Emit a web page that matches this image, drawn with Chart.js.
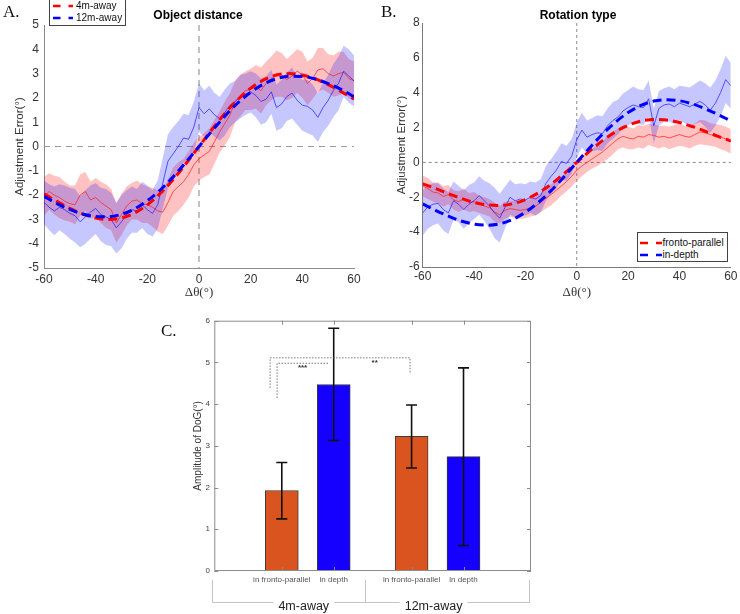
<!DOCTYPE html>
<html><head><meta charset="utf-8">
<title>Adjustment error and DoG amplitude</title>
<script src="https://cdn.jsdelivr.net/npm/chart.js@4.4.1/dist/chart.umd.min.js"></script>
<style>
html,body{margin:0;padding:0;background:#fff;}
body{position:relative;width:740px;height:614px;overflow:hidden;}
canvas{position:absolute;display:block;}
.t{position:absolute;white-space:nowrap;line-height:1;}
.letter{font-family:'Liberation Serif','DejaVu Serif',serif;font-size:17px;color:#111;}
.title{font-family:'Liberation Sans',Arial,sans-serif;font-weight:bold;font-size:12px;color:#000;transform:translateX(-50%);}
.legend{position:absolute;background:#fff;border:1px solid #444;box-sizing:border-box;}
.legend .lab{position:absolute;font-family:'Liberation Sans',Arial,sans-serif;font-size:10px;color:#111;line-height:1;white-space:nowrap;transform:translateY(-50%);}
.legend svg{position:absolute;overflow:visible;}
</style></head><body>
<canvas id="cA" width="370" height="300" style="left:0;top:0;width:370px;height:300px"></canvas>
<canvas id="cB" width="370" height="300" style="left:370px;top:0;width:370px;height:300px"></canvas>
<canvas id="cC" width="400" height="314" style="left:150px;top:300px;width:400px;height:314px"></canvas>
<div class="t letter" style="left:3px;top:3px">A.</div>
<div class="t letter" style="left:381px;top:3px">B.</div>
<div class="t letter" style="left:161px;top:322px">C.</div>
<div class="t title" style="left:198px;top:9px">Object distance</div>
<div class="t title" style="left:578px;top:9px">Rotation type</div>
<div id="legA" class="legend" style="left:49px;top:-1px;width:77px;height:27px"></div>
<div id="legB" class="legend" style="left:637px;top:232px;width:91px;height:30px"></div>
<script>
// ---------- data ----------
const thetas = [-60,-58,-56,-54,-52,-50,-48,-46,-44,-42,-40,-38,-36,-34,-32,-30,-28,-26,-24,-22,-20,-18,-16,-14,-12,-10,-8,-6,-4,-2,0,2,4,6,8,10,12,14,16,18,20,22,24,26,28,30,32,34,36,38,40,42,44,46,48,50,52,54,56,58,60];
const fitThetas = [-60,-55,-50,-45,-40,-35,-30,-25,-20,-15,-10,-5,0,5,10,15,20,25,30,35,40,45,50,55,60];

// Panel A: object distance
const aNames = ['4m-away','12m-away'];
const a4mMean = [-2.05,-1.85,-2.0,-2.1,-2.25,-2.35,-2.4,-2.0,-1.85,-2.2,-2.1,-2.3,-2.45,-2.6,-3.15,-2.8,-2.45,-2.25,-2.2,-2.35,-2.4,-2.5,-2.65,-2.7,-2.3,-1.85,-1.65,-1.45,-1.15,-0.75,-0.5,-0.35,-0.2,0.2,0.6,0.95,1.3,1.85,2.1,2.3,2.35,2.45,2.3,2.6,2.8,3.0,2.95,2.75,2.9,3.1,2.95,2.6,2.8,3.15,3.2,3.0,2.9,3.0,3.05,2.8,2.7];
const a4mErr = [0.8,0.75,0.8,0.85,0.8,0.75,0.8,0.85,0.8,0.75,0.8,0.85,0.9,0.85,0.8,0.85,0.8,0.75,0.8,0.8,0.75,0.8,0.85,0.9,0.95,1.0,1.0,0.95,0.95,0.9,0.9,0.9,0.95,0.9,0.85,0.9,0.9,0.85,0.85,0.8,0.85,0.9,0.95,0.9,0.9,0.95,0.9,0.85,0.9,0.9,0.95,0.9,0.85,0.9,0.85,0.8,0.85,0.9,0.85,0.8,0.8];
const a12mMean = [-2.3,-2.5,-2.65,-2.5,-2.6,-2.75,-2.85,-3.1,-2.9,-2.7,-2.55,-2.8,-2.9,-3.0,-3.35,-3.1,-2.8,-2.6,-2.65,-2.4,-2.6,-2.75,-2.4,-1.5,-0.6,-0.3,0.0,0.35,0.3,0.8,1.6,1.35,1.55,1.3,1.15,1.4,1.7,1.85,2.05,2.15,2.25,2.1,1.85,1.95,2.25,1.6,1.75,2.05,2.2,1.9,1.7,1.65,1.5,1.2,1.6,1.9,2.3,2.6,3.1,2.9,2.7];
const a12mErr = [0.9,0.95,1.0,0.95,1.0,1.05,1.1,1.05,1.1,1.1,1.05,1.1,1.15,1.1,1.05,1.1,1.0,0.95,0.9,0.95,1.0,0.95,1.0,1.05,1.1,1.1,1.05,1.0,1.0,1.05,1.0,0.95,0.95,0.9,0.9,0.95,0.9,0.85,0.9,0.85,0.85,0.9,0.95,0.95,0.9,0.95,1.0,1.0,1.05,1.0,1.05,1.1,1.05,1.0,1.0,1.05,1.1,1.1,1.05,1.1,1.05];
const a4mFit = [-1.95,-2.26,-2.55,-2.78,-2.94,-3.0,-2.94,-2.74,-2.4,-1.93,-1.36,-0.7,0,0.7,1.36,1.93,2.4,2.74,2.94,3.0,2.94,2.78,2.55,2.26,1.95];
const a12mFit = [-2.05,-2.35,-2.59,-2.78,-2.88,-2.89,-2.79,-2.57,-2.23,-1.79,-1.25,-0.64,0,0.64,1.25,1.79,2.23,2.57,2.79,2.89,2.88,2.78,2.59,2.35,2.05];

// Panel B: rotation type
const bNames = ['fronto-parallel','in-depth'];
const bFrontoMean = [-1.35,-1.5,-1.7,-1.75,-1.95,-1.85,-2.15,-2.25,-2.1,-2.3,-2.25,-2.4,-2.5,-2.6,-2.85,-3.0,-2.75,-2.65,-2.7,-2.75,-2.7,-2.6,-2.5,-2.3,-2.05,-1.85,-1.6,-1.35,-1.1,-0.8,-0.45,-0.2,0.0,0.2,0.4,0.6,0.85,1.1,1.35,1.5,1.4,1.35,1.5,1.45,1.6,1.55,1.45,1.5,1.4,1.5,1.6,1.5,1.45,1.6,1.75,1.7,1.6,1.55,1.45,1.35,1.2];
const bFrontoErr = [0.6,0.6,0.55,0.6,0.6,0.55,0.55,0.6,0.6,0.55,0.55,0.5,0.5,0.5,0.55,0.5,0.5,0.45,0.5,0.5,0.5,0.5,0.55,0.55,0.6,0.6,0.6,0.55,0.55,0.6,0.6,0.6,0.55,0.55,0.6,0.6,0.65,0.65,0.6,0.65,0.65,0.6,0.65,0.65,0.6,0.65,0.65,0.6,0.65,0.65,0.65,0.6,0.65,0.65,0.7,0.7,0.65,0.65,0.7,0.7,0.7];
const bDepthMean = [-2.9,-2.55,-2.4,-2.35,-2.7,-2.9,-2.2,-2.4,-2.7,-2.4,-2.2,-1.9,-2.2,-2.5,-2.9,-3.2,-2.6,-2.0,-2.2,-2.1,-2.15,-2.0,-2.1,-1.9,-1.2,-0.8,-0.45,0.05,-0.05,0.35,1.3,1.85,1.45,1.6,1.7,1.65,2.1,2.4,2.6,2.95,3.15,3.3,3.2,3.15,3.65,2.1,3.1,3.3,3.35,3.2,3.4,3.3,3.2,3.35,3.5,3.3,3.0,3.4,4.0,4.75,4.4];
const bDepthErr = [1.3,1.25,1.2,1.15,1.2,1.2,1.1,1.05,1.1,1.1,1.05,1.1,1.15,1.3,1.45,1.4,1.2,1.0,0.95,0.9,0.9,0.9,0.95,0.95,1.0,1.0,1.05,1.05,1.0,1.0,1.0,1.0,0.95,0.95,1.0,1.0,1.0,1.05,1.0,1.0,1.0,1.05,1.0,1.0,1.05,1.0,1.0,0.95,1.0,1.0,1.0,1.05,1.1,1.15,1.2,1.25,1.3,1.3,1.35,1.35,1.3];
const bFrontoFit = [-1.23,-1.5,-1.79,-2.06,-2.29,-2.43,-2.47,-2.37,-2.13,-1.75,-1.25,-0.65,0,0.65,1.25,1.75,2.13,2.37,2.47,2.43,2.29,2.06,1.79,1.5,1.23];
const bDepthFit = [-2.38,-2.75,-3.08,-3.36,-3.54,-3.6,-3.52,-3.27,-2.86,-2.3,-1.62,-0.83,0,0.83,1.62,2.3,2.86,3.27,3.52,3.6,3.54,3.36,3.08,2.75,2.38];

// Panel C: amplitude of DoG
const cGroups = ['4m-away','12m-away'];
const cConditions = ['in fronto-parallel','in depth','in fronto-parallel','in depth'];
const cPositions = [1,2,3.5,4.5];
const cMeans = [1.93,4.47,3.23,2.74];
const cLow = [1.25,3.13,2.47,0.61];
const cHigh = [2.60,5.82,3.98,4.87];
const cSigLabels = ['***','**'];

// ---------- styles ----------
const SANS = "'Liberation Sans', Arial, Helvetica, sans-serif";
const SERIF = "'Liberation Serif', 'DejaVu Serif', serif";
const RED = '#ff0000', BLUE = '#0000ff';
const RED_BAND = 'rgba(255,0,0,0.24)', BLUE_BAND = 'rgba(0,0,255,0.22)';
const BAR_COLORS = ['#d9541e','#1500ff','#d9541e','#1500ff'];

function pts(xs, ys){ return xs.map((x,i)=>({x:x, y:ys[i]})); }
function shift(mean, err, s){ return mean.map((m,i)=>m + s*err[i]); }

const zeroLines = {
  id:'zeroLines',
  beforeDatasetsDraw(chart, args, o){
    const {ctx, chartArea:a, scales:{x,y}} = chart;
    const px = x.getPixelForValue(0), py = y.getPixelForValue(0);
    ctx.save();
    ctx.strokeStyle = o.color; ctx.lineWidth = o.width; ctx.setLineDash(o.dash);
    ctx.beginPath();
    ctx.moveTo(a.left, py); ctx.lineTo(a.right, py);
    ctx.moveTo(px, a.top); ctx.lineTo(px, a.bottom);
    ctx.stroke();
    ctx.restore();
  }
};

function curveChart(id, s){
  const line = (label, xs, ys, color, extra) => Object.assign({label, data: pts(xs, ys), borderColor: color, pointRadius: 0, fill: false}, extra);
  const datasets = [
    line(s.names[1]+' fit', fitThetas, s.fit[1], BLUE, {borderWidth:3, borderDash:[9,5], cubicInterpolationMode:'monotone'}),
    line(s.names[0]+' fit', fitThetas, s.fit[0], RED, {borderWidth:3, borderDash:[9,5], cubicInterpolationMode:'monotone'}),
    line(s.names[1], thetas, s.mean[1], 'rgba(20,20,255,0.85)', {borderWidth:0.8}),
    line(s.names[0], thetas, s.mean[0], 'rgba(255,20,20,0.85)', {borderWidth:0.8}),
    line(s.names[1]+' upper', thetas, shift(s.mean[1], s.err[1], 1), 'transparent', {borderWidth:0, backgroundColor:BLUE_BAND, fill:'+1'}),
    line(s.names[1]+' lower', thetas, shift(s.mean[1], s.err[1], -1), 'transparent', {borderWidth:0}),
    line(s.names[0]+' upper', thetas, shift(s.mean[0], s.err[0], 1), 'transparent', {borderWidth:0, backgroundColor:RED_BAND, fill:'+1'}),
    line(s.names[0]+' lower', thetas, shift(s.mean[0], s.err[0], -1), 'transparent', {borderWidth:0})
  ];
  return new Chart(document.getElementById(id), {
    type:'line',
    data:{datasets},
    options:{
      responsive:false, animation:false, events:[],
      layout:{padding:s.pad},
      plugins:{legend:{display:false}, tooltip:{enabled:false}, zeroLines:s.zero},
      scales:{
        x:{type:'linear', min:-60, max:60,
           ticks:{stepSize:20, padding:s.xTickPad, color:'#333', font:{family:SANS, size:12}},
           grid:{display:false, drawTicks:false},
           border:{display:true, color:s.axisColor, width:1},
           title:{display:true, text:'Δθ(°)', color:'#333', font:{family:SERIF, size:13}, padding:{top:0, bottom:0}},
           afterFit(sc){ sc.height = s.xHeight; }},
        y:{type:'linear', min:s.yMin, max:s.yMax,
           ticks:{stepSize:s.yStep, padding:s.yTickPad, color:'#333', font:{family:SANS, size:12}},
           grid:{display:false, drawTicks:false},
           border:{display:true, color:s.axisColor, width:1},
           title:{display:true, text:'Adjustment Error(°)', color:'#333', font:{family:SANS, size:11.5}, padding:{top:s.yTitlePad, bottom:0}},
           afterFit(sc){ sc.width = s.yWidth; }}
      }
    },
    plugins:[zeroLines]
  });
}

curveChart('cA', {
  names:aNames, fit:[a4mFit, a12mFit], mean:[a4mMean, a12mMean], err:[a4mErr, a12mErr],
  pad:{left:0, top:25, right:16, bottom:0}, yWidth:44, xHeight:32, xTickPad:4.5, yTickPad:5, yTitlePad:13,
  yMin:-5, yMax:5, yStep:1, axisColor:'#8a8a8a',
  zero:{color:'#9a9a9a', width:1.2, dash:[6,5]}
});
curveChart('cB', {
  names:bNames, fit:[bFrontoFit, bDepthFit], mean:[bFrontoMean, bDepthMean], err:[bFrontoErr, bDepthErr],
  pad:{left:0, top:23, right:7.3, bottom:0}, yWidth:52.7, xHeight:33, xTickPad:2.5, yTickPad:3, yTitlePad:24.8,
  yMin:-6, yMax:8, yStep:2, axisColor:'#7a7a7a',
  zero:{color:'#8a8a8a', width:1, dash:[3,3]}
});

// ---------- legends (HTML) ----------
function buildLegend(el, labels, colors, rowsY, sx0, sx1, textX, dash){
  const NS = 'http://www.w3.org/2000/svg';
  labels.forEach((lab, i) => {
    const svg = document.createElementNS(NS, 'svg');
    svg.setAttribute('width', sx1 - sx0); svg.setAttribute('height', 4);
    svg.style.left = sx0 + 'px'; svg.style.top = (rowsY[i] - 2) + 'px';
    const ln = document.createElementNS(NS, 'line');
    ln.setAttribute('x1', 0); ln.setAttribute('y1', 2); ln.setAttribute('x2', sx1 - sx0); ln.setAttribute('y2', 2);
    ln.setAttribute('stroke', colors[i]); ln.setAttribute('stroke-width', 2.6); ln.setAttribute('stroke-dasharray', dash);
    svg.appendChild(ln); el.appendChild(svg);
    const d = document.createElement('div');
    d.className = 'lab'; d.textContent = lab;
    d.style.left = textX + 'px'; d.style.top = rowsY[i] + 'px';
    el.appendChild(d);
  });
}
buildLegend(document.getElementById('legA'), aNames, [RED, BLUE], [6, 18.3], 3, 23, 26, '7.5 8');
buildLegend(document.getElementById('legB'), bNames, [RED, BLUE], [9.5, 22], 2, 24, 24.5, '8 8');

// ---------- panel C ----------
const cFrame = {
  id:'cFrame',
  afterDatasetsDraw(chart){
    const {ctx, chartArea:a, scales:{x,y}} = chart;
    ctx.save();
    ctx.strokeStyle = '#8c8c8c'; ctx.lineWidth = 1;
    ctx.strokeRect(a.left + 0.5, a.top + 0.5, a.right - a.left - 1, a.bottom - a.top - 1);
    ctx.beginPath();
    y.ticks.forEach(t => {
      const py = Math.round(y.getPixelForValue(t.value)) + 0.5;
      ctx.moveTo(a.left, py); ctx.lineTo(a.left + 4, py);
      ctx.moveTo(a.right, py); ctx.lineTo(a.right - 4, py);
    });
    cPositions.forEach(p => {
      const px = Math.round(x.getPixelForValue(p)) + 0.5;
      ctx.moveTo(px, a.top); ctx.lineTo(px, a.top + 4);
      ctx.moveTo(px, a.bottom); ctx.lineTo(px, a.bottom - 4);
    });
    ctx.stroke();
    ctx.restore();
  }
};
const cErrorBars = {
  id:'cErrorBars',
  afterDatasetsDraw(chart){
    const {ctx, scales:{x,y}} = chart;
    ctx.save();
    ctx.strokeStyle = '#111'; ctx.lineWidth = 1.6;
    cPositions.forEach((p, i) => {
      const px = x.getPixelForValue(p), lo = y.getPixelForValue(cLow[i]), hi = y.getPixelForValue(cHigh[i]);
      ctx.beginPath();
      ctx.moveTo(px, lo); ctx.lineTo(px, hi);
      ctx.moveTo(px - 5.5, lo); ctx.lineTo(px + 5.5, lo);
      ctx.moveTo(px - 5.5, hi); ctx.lineTo(px + 5.5, hi);
      ctx.stroke();
    });
    ctx.restore();
  }
};
const cSig = {
  id:'cSig',
  afterDatasetsDraw(chart, args, o){
    const {ctx, scales:{x,y}} = chart;
    ctx.save();
    ctx.strokeStyle = '#555'; ctx.lineWidth = 0.8; ctx.setLineDash([1.5, 1.5]);
    ctx.fillStyle = '#333'; ctx.font = 'bold 8px ' + SANS; ctx.textAlign = 'center'; ctx.textBaseline = 'middle';
    o.brackets.forEach((b, i) => {
      ctx.beginPath();
      ctx.moveTo(x.getPixelForValue(b.x1), y.getPixelForValue(b.y1));
      ctx.lineTo(x.getPixelForValue(b.x1), y.getPixelForValue(b.top));
      ctx.lineTo(x.getPixelForValue(b.x2), y.getPixelForValue(b.top));
      if (b.y2 !== null) ctx.lineTo(x.getPixelForValue(b.x2), y.getPixelForValue(b.y2));
      ctx.stroke();
      ctx.fillText(cSigLabels[i], x.getPixelForValue(b.lx), y.getPixelForValue(b.ly));
    });
    ctx.restore();
  }
};
const cGroupAxis = {
  id:'cGroupAxis',
  afterDraw(chart, args, o){
    const {ctx, scales:{x}} = chart;
    ctx.save();
    ctx.strokeStyle = '#c4c4c4'; ctx.lineWidth = 1;
    const bx = o.bounds.map(v => Math.round(x.getPixelForValue(v)) + 0.5);
    ctx.beginPath();
    bx.forEach(px => { ctx.moveTo(px, o.top); ctx.lineTo(px, o.lineY); });
    ctx.moveTo(bx[0], o.lineY); ctx.lineTo(bx[bx.length - 1], o.lineY);
    ctx.stroke();
    ctx.font = '12.5px ' + SANS; ctx.textAlign = 'center'; ctx.textBaseline = 'middle';
    cGroups.forEach((g, i) => {
      const cx = x.getPixelForValue((cPositions[2*i] + cPositions[2*i+1]) / 2) + o.labelShift;
      const w = ctx.measureText(g).width + 10;
      ctx.fillStyle = '#fff'; ctx.fillRect(cx - w/2, o.lineY - 3, w, 14);
      ctx.fillStyle = '#222'; ctx.fillText(g, cx, o.labelY);
    });
    ctx.restore();
  }
};

new Chart(document.getElementById('cC'), {
  type:'bar',
  data:{datasets:[{
    label:'Amplitude of DoG',
    data: cPositions.map((p, i) => ({x:p, y:cMeans[i]})),
    backgroundColor: BAR_COLORS, borderColor:'#3c3c3c', borderWidth:1, barThickness:33
  }]},
  options:{
    responsive:false, animation:false, events:[],
    layout:{padding:{left:0, top:20.7, right:19, bottom:0}},
    plugins:{
      legend:{display:false}, tooltip:{enabled:false},
      cSig:{brackets:[
        {x1:0.91, y1:4.15, top:4.98, x2:1.92, y2:null, lx:1.4, ly:4.86},
        {x1:0.775, y1:4.39, top:5.11, x2:3.47, y2:4.72, lx:2.79, ly:4.98}
      ]},
      cGroupAxis:{bounds:[-0.35, 2.61, 5.77], top:280, lineY:302.5, labelY:306.5, labelShift:-4}
    },
    scales:{
      x:{type:'linear', offset:false, min:-0.3, max:5.8,
         afterBuildTicks(sc){ sc.ticks = cPositions.map(v => ({value:v})); },
         ticks:{autoSkip:false, maxRotation:0, minRotation:0, padding:4, color:'#555', font:{family:SANS, size:8},
                callback:(v, i) => cConditions[i]},
         grid:{display:false, drawTicks:false}, border:{display:false},
         afterFit(sc){ sc.height = 43; }},
      y:{min:0, max:6,
         ticks:{stepSize:1, padding:4.3, color:'#444', font:{family:SANS, size:8}},
         grid:{display:false, drawTicks:false}, border:{display:false},
         title:{display:true, text:'Amplitude of DoG(°)', color:'#333', font:{family:SANS, size:10}, padding:{top:42, bottom:0}},
         afterFit(sc){ sc.width = 64.3; }}
    }
  },
  plugins:[cFrame, cErrorBars, cSig, cGroupAxis]
});
</script>
</body></html>
